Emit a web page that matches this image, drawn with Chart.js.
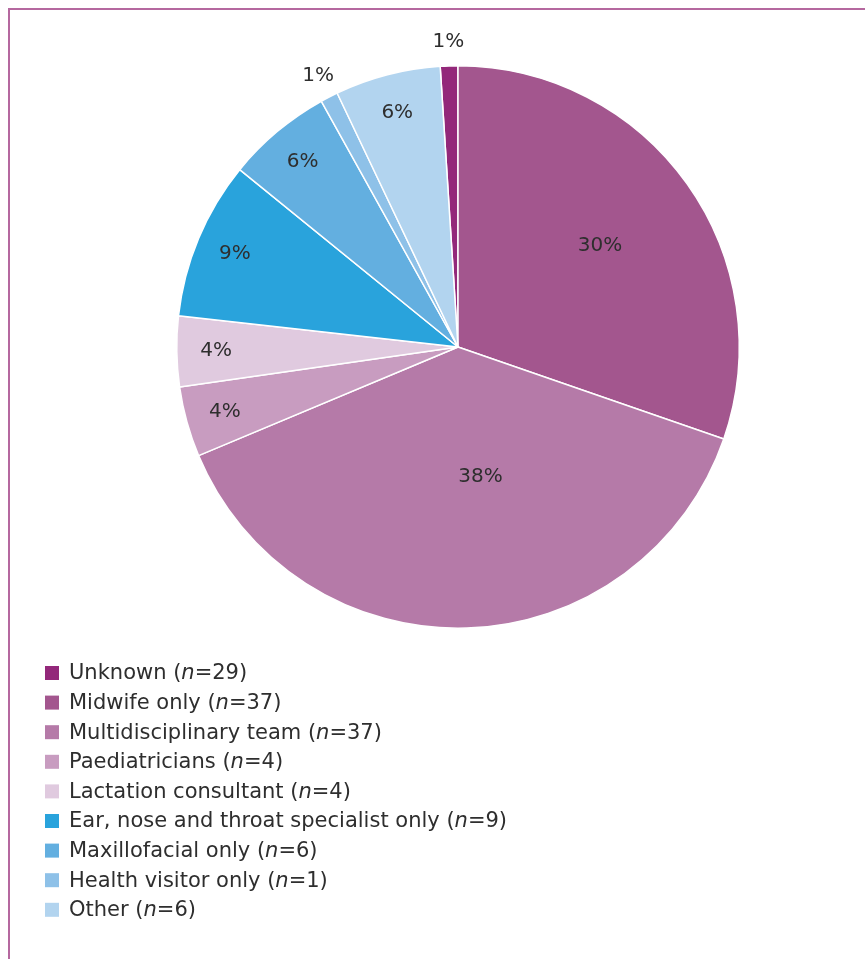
<!DOCTYPE html>
<html>
<head>
<meta charset="utf-8">
<script src="https://cdn.jsdelivr.net/npm/chart.js@4/dist/chart.umd.min.js"></script>
<style>
  html, body { margin: 0; padding: 0; background: #fff; }
  #wrap { position: relative; width: 865px; height: 959px; overflow: hidden; }
  #frame { position: absolute; left: 8px; top: 8px; right: -4px; bottom: -4px;
           border-top: 2px solid #b5689f; border-left: 2px solid #b5689f; }
  canvas { position: absolute; left: 0; top: 0; }
</style>
</head>
<body>
<div id="wrap">
  <div id="frame"></div>
  <canvas id="chart" width="865" height="959"></canvas>
</div>
<script>
// Who provided the assessment: categories, shares shown on the pie (%), and counts in the legend
const categories = [
  'Unknown',
  'Midwife only',
  'Multidisciplinary team',
  'Paediatricians',
  'Lactation consultant',
  'Ear, nose and throat specialist only',
  'Maxillofacial only',
  'Health visitor only',
  'Other'
];
const percentages = [1, 30, 38, 4, 4, 9, 6, 1, 6];
const counts = [29, 37, 37, 4, 4, 9, 6, 1, 6];
const colours = ['#93287a', '#a3568e', '#b57aa8', '#c89cc0', '#e0cadf',
                 '#29a3dc', '#63afe0', '#8ec1e8', '#b2d4ef'];

const FONT = '"DejaVu Sans", "Liberation Sans", sans-serif';
const TEXT = '#2e2e2e';

const total = percentages.reduce((a, b) => a + b, 0);

// Percentage labels: inside the slice, pushed outward for small slices, outside for 1% slices
const sliceLabels = {
  id: 'sliceLabels',
  afterDatasetsDraw(chart) {
    const ctx = chart.ctx;
    const meta = chart.getDatasetMeta(0);
    ctx.save();
    ctx.font = '20px ' + FONT;
    ctx.fillStyle = TEXT;
    ctx.textAlign = 'center';
    ctx.textBaseline = 'middle';
    meta.data.forEach((arc, i) => {
      const v = percentages[i];
      let mid = (arc.startAngle + arc.endAngle) / 2;
      let f;
      if (v <= 1) { f = 1.085; }
      else if (v >= 35) { f = 0.47; mid -= 0.14; }
      else if (v >= 20) { f = 0.62; }
      else { f = 0.86; }
      const r = arc.outerRadius * f;
      const x = arc.x + Math.cos(mid) * r;
      const y = arc.y + Math.sin(mid) * r;
      ctx.fillText(v + '%', x, y);
    });
    ctx.restore();
  }
};

// Legend in a single column under the pie, with an italic "n"
const columnLegend = {
  id: 'columnLegend',
  afterDraw(chart) {
    const ctx = chart.ctx;
    const x0 = 45, y0 = 673, step = 29.6, box = 14;
    ctx.save();
    ctx.textBaseline = 'middle';
    categories.forEach((name, i) => {
      const y = y0 + i * step;
      ctx.fillStyle = colours[i];
      ctx.fillRect(x0, y - box / 2, box, box);
      ctx.fillStyle = TEXT;
      let x = x0 + 24;
      const parts = [
        [name + ' (', 'normal'],
        ['n', 'italic'],
        ['=' + counts[i] + ')', 'normal']
      ];
      parts.forEach(([t, style]) => {
        ctx.font = style + ' 21px ' + FONT;
        ctx.fillText(t, x, y + 1);
        x += ctx.measureText(t).width;
      });
    });
    ctx.restore();
  }
};

new Chart(document.getElementById('chart'), {
  type: 'pie',
  data: {
    labels: categories,
    datasets: [{
      data: percentages,
      backgroundColor: colours,
      borderColor: '#ffffff',
      borderWidth: 1.5
    }]
  },
  options: {
    responsive: false,
    animation: false,
    rotation: -360 * percentages[0] / total,
    layout: { padding: { left: 176, top: 65, right: 125, bottom: 330 } },
    plugins: {
      legend: { display: false },
      tooltip: { enabled: false }
    }
  },
  plugins: [sliceLabels, columnLegend]
});
</script>
</body>
</html>
